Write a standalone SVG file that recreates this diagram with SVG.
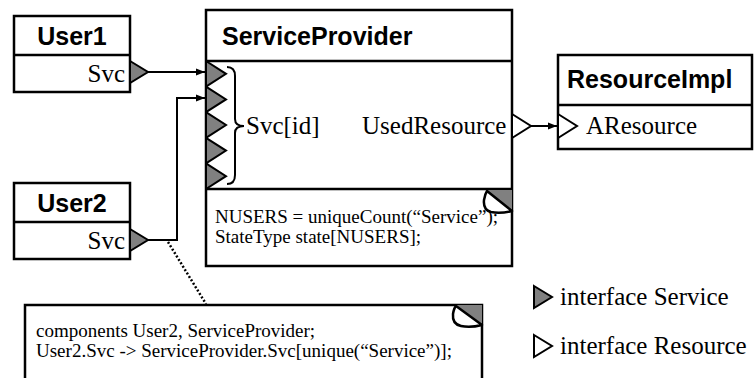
<svg xmlns="http://www.w3.org/2000/svg" width="755" height="378" viewBox="0 0 755 378">
<style>
.box{fill:#fff;stroke:#000;stroke-width:2.5}
.div{stroke:#000;stroke-width:2.5;fill:none}
.title{font-family:"Liberation Sans",Arial,sans-serif;font-weight:bold;font-size:25px;fill:#000}
.lbl{font-family:"Liberation Serif","Times New Roman",serif;font-size:25px;fill:#000}
.code{font-family:"Liberation Serif","Times New Roman",serif;font-size:19px;fill:#000}
.svc{fill:#808080;stroke:#000;stroke-width:2;stroke-linejoin:miter}
.res{fill:#fff;stroke:#000;stroke-width:2;stroke-linejoin:miter}
.wire{fill:none;stroke:#000;stroke-width:2}
.curl{fill:#fff;stroke:#000;stroke-width:2.5;stroke-linejoin:round}
</style>
<defs>
<marker id="arr" viewBox="0 0 10 10" refX="10" refY="5" markerWidth="4.5" markerHeight="4.5" orient="auto" markerUnits="strokeWidth">
<path d="M0,1 L10,5 L0,9 Z" fill="#000"/>
</marker>
</defs>

<g id="connectors">
<path class="wire" d="M148,72 L205,72" marker-end="url(#arr)"/>
<path class="wire" d="M148,240 L177,240 L177,98 L205,98" marker-end="url(#arr)"/>
<path class="wire" d="M531,126 L557,126" marker-end="url(#arr)"/>
<path d="M168,242 L206,304" fill="none" stroke="#000" stroke-width="2.5" stroke-dasharray="2,2"/>
</g>

<g id="User1">
<rect class="box" x="14" y="16" width="116" height="76"/>
<line class="div" x1="14" y1="55" x2="130" y2="55"/>
<text class="title" x="72" y="45" text-anchor="middle">User1</text>
<text class="lbl" x="125" y="82" text-anchor="end">Svc</text>
<polygon class="svc" points="130,61 148,72 130,83"/>
</g>

<g id="User2">
<rect class="box" x="14" y="183" width="116" height="76"/>
<line class="div" x1="14" y1="222" x2="130" y2="222"/>
<text class="title" x="72" y="212" text-anchor="middle">User2</text>
<text class="lbl" x="125" y="249" text-anchor="end">Svc</text>
<polygon class="svc" points="130,229 148,240 130,251"/>
</g>

<g id="ServiceProvider">
<rect class="box" x="206" y="10" width="306" height="256"/>
<line class="div" x1="206" y1="61" x2="512" y2="61"/>
<line class="div" x1="206" y1="189" x2="512" y2="189"/>
<text class="title" x="222" y="45">ServiceProvider</text>
<polygon class="svc" points="206,61 226,73.8 206,86.6"/>
<polygon class="svc" points="206,86.6 226,99.4 206,112.2"/>
<polygon class="svc" points="206,112.2 226,125 206,137.8"/>
<polygon class="svc" points="206,137.8 226,150.6 206,163.4"/>
<polygon class="svc" points="206,163.4 226,176.2 206,189"/>
<path d="M227,67 Q235,67 235,76 L235,119 Q235,126 244,126 Q235,126 235,133 L235,175 Q235,184 227,184" fill="none" stroke="#000" stroke-width="2"/>
<text class="lbl" x="246" y="134">Svc[id]</text>
<text class="lbl" x="362" y="134">UsedResource</text>
<polygon class="res" points="512,114 531,126 512,138"/>
<polygon points="486,190 512,190 512,211" fill="#808080"/>
<path class="curl" d="M487,191 L512,211 Q500,214 491,212 Q483,210 484,200 Q485,194 487,191 Z"/>
<text class="code" x="215" y="223">NUSERS = uniqueCount(“Service”);</text>
<text class="code" x="215" y="243">StateType state[NUSERS];</text>
</g>

<g id="ResourceImpl">
<rect class="box" x="558" y="55" width="194" height="94"/>
<line class="div" x1="558" y1="105" x2="752" y2="105"/>
<text class="title" x="567" y="88">ResourceImpl</text>
<polygon class="res" points="558,114 577,126 558,138"/>
<text class="lbl" x="586" y="134">AResource</text>
</g>

<g id="Note">
<path class="box" d="M25,390 L25,305 L482,305 L482,390"/>
<polygon points="455,305 482,305 482,324" fill="#808080"/>
<path class="curl" d="M456,306 L482,325 Q470,328 461,326 Q452,324 453,314 Q454,308 456,306 Z"/>
<text class="code" x="36" y="337">components User2, ServiceProvider;</text>
<text class="code" x="36" y="357">User2.Svc -&gt; ServiceProvider.Svc[unique(“Service”)];</text>
</g>

<g id="Legend">
<polygon class="svc" points="534,286 552,297 534,308"/>
<text class="lbl" x="560" y="305">interface Service</text>
<polygon class="res" points="534,335 552,346 534,357"/>
<text class="lbl" x="560" y="354">interface Resource</text>
</g>
</svg>
